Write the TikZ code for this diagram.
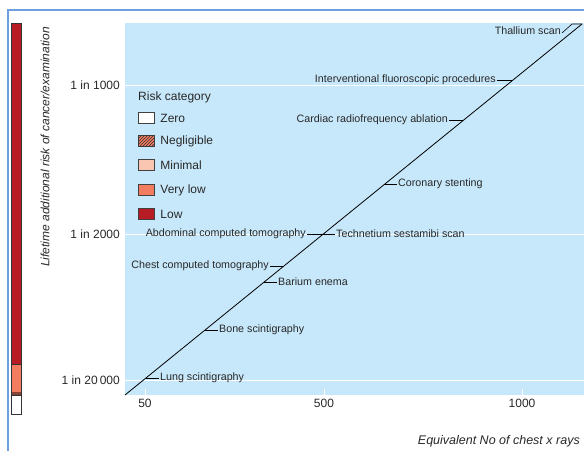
\documentclass[tikz,border=0pt]{standalone}
\usepackage{fontspec}
\setmainfont{Liberation Sans}
\usetikzlibrary{patterns}
\definecolor{plotbg}{RGB}{199,232,250}
\definecolor{framebl}{RGB}{110,160,225}
\definecolor{lowred}{RGB}{183,28,36}
\definecolor{vlow}{RGB}{242,124,96}
\definecolor{minim}{RGB}{250,198,178}
\definecolor{txt}{RGB}{40,40,40}
\begin{document}
\begin{tikzpicture}[x=1pt,y=-1pt,font=\fontsize{12}{14}\selectfont,text=txt,
  lbl/.style={font=\fontsize{10.7}{12}\selectfont,inner sep=1pt},
  keybox/.style={draw=black!75,line width=0.5pt,minimum width=16pt,minimum height=11pt,inner sep=0pt}]
\useasboundingbox (0,0) rectangle (584,451);

\draw[framebl,line width=1.3pt] (8,451) -- (8,10) -- (584,10);

\begin{scope}
\fill[lowred] (11,23) rectangle (21,364);
\fill[vlow] (11,364) rectangle (21,392);
\fill[vlow!55!black] (11,392) rectangle (21,395);
\fill[white] (11,395) rectangle (21,414);
\draw[black!80,line width=0.5pt] (11,364) -- (21,364) (11,395) -- (21,395);
\draw[black!80,line width=0.6pt] (11,23) rectangle (21,414);
\end{scope}

\node[rotate=90,font=\fontsize{12}{14}\itshape] (ylab) at (45,147) {Lifetime additional risk of cancer/examination};
\node[anchor=east,font=\fontsize{12.5}{14}\itshape,inner sep=0pt] (xlab) at (580,441) {Equivalent No of chest x rays};

\begin{scope}
\fill[plotbg] (125,23) rectangle (584,395);
\draw[white,line width=0.7pt] (125,85) -- (584,85) (125,234) -- (584,234) (125,380) -- (584,380);
\foreach \x in {145,324,522}
  \draw[white,line width=0.7pt] (\x,389) -- (\x,395);
\end{scope}

\node[anchor=east,inner sep=1pt] (r1000) at (121,85) {1 in 1000};
\node[anchor=east,inner sep=1pt] (r2000) at (121,234) {1 in 2000};
\node[anchor=east,inner sep=1pt] (r20000) at (121,380) {1 in 20\,000};
\node[anchor=north,inner sep=1pt] (x50) at (145,398) {50};
\node[anchor=north,inner sep=1pt] (x500) at (324,398) {500};
\node[anchor=north,inner sep=1pt] (x1000) at (522,398) {1000};

\node[anchor=west,inner sep=1pt] (key) at (137,97) {Risk category};
\node[keybox,fill=white] (kzero) at (146,118) {};
\node[keybox,fill=vlow,postaction={pattern=north east lines,pattern color=black!80}] (kneg) at (146,141) {};
\node[keybox,fill=minim] (kmin) at (146,165) {};
\node[keybox,fill=vlow] (kvlow) at (146,190) {};
\node[keybox,fill=lowred] (klow) at (146,214) {};
\node[anchor=west,inner sep=1pt] at ([shift={(5,0)}]kzero.east) (tzero) {Zero};
\node[anchor=west,inner sep=1pt] at ([shift={(5,0)}]kneg.east) (tneg) {Negligible};
\node[anchor=west,inner sep=1pt] at ([shift={(5,0)}]kmin.east) (tmin) {Minimal};
\node[anchor=west,inner sep=1pt] at ([shift={(5,0)}]kvlow.east) (tvlow) {Very low};
\node[anchor=west,inner sep=1pt] at ([shift={(5,0)}]klow.east) (tlow) {Low};

\coordinate (lo) at (125,395);
\coordinate (hi) at (582,24);
\draw[line width=0.8pt] (lo) -- (hi);

\coordinate (lung) at (146,378);
\coordinate (bone) at (205,330);
\coordinate (bari) at (264,282);
\coordinate (chct) at (283,266);
\coordinate (abct) at (322,234);
\coordinate (coro) at (384,184);
\coordinate (card) at (463,120);
\coordinate (intv) at (512,80);
\coordinate (thk) at (572,24);

\node[lbl,anchor=west] (tlung) at ([shift={(13,0)}]lung) {Lung scintigraphy};
\node[lbl,anchor=west] (tbone) at ([shift={(13,0)}]bone) {Bone scintigraphy};
\node[lbl,anchor=west] (tbari) at ([shift={(13,0)}]bari) {Barium enema};
\node[lbl,anchor=east] (tchct) at ([shift={(-13,0)}]chct) {Chest computed tomography};
\node[lbl,anchor=east] (tabct) at ([shift={(-15,0)}]abct) {Abdominal computed tomography};
\node[lbl,anchor=west] (ttech) at ([shift={(13,0)}]abct) {Technetium sestamibi scan};
\node[lbl,anchor=west] (tcoro) at ([shift={(13,0)}]coro) {Coronary stenting};
\node[lbl,anchor=east] (tcard) at ([shift={(-14,0)}]card) {Cardiac radiofrequency ablation};
\node[lbl,anchor=east] (tintv) at ([shift={(-15,0)}]intv) {Interventional fluoroscopic procedures};
\node[lbl,anchor=east] (tthal) at (562,31) {Thallium scan};

\draw[line width=0.6pt] (lung) -- (tlung.west) (bone) -- (tbone.west) (bari) -- (tbari.west)
  (chct) -- (tchct.east) (abct) -- (tabct.east) (abct) -- (ttech.west) (coro) -- (tcoro.west)
  (card) -- (tcard.east) (intv) -- (tintv.east);
\draw[line width=0.6pt] ([yshift=-2pt]tthal.east) -- (thk) -- (hi);

\end{tikzpicture}
\end{document}
